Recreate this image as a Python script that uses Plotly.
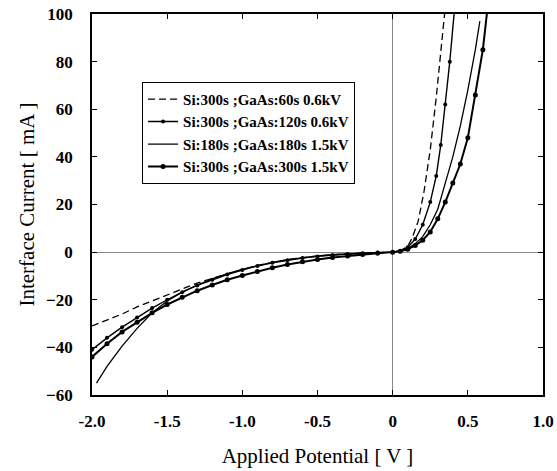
import plotly.graph_objects as go

# ---- data ----
names = [
    "Si:300s ;GaAs:60s 0.6kV",
    "Si:300s ;GaAs:120s 0.6kV",
    "Si:180s ;GaAs:180s 1.5kV",
    "Si:300s ;GaAs:300s 1.5kV",
]

v_a = [-2.0, -1.9, -1.8, -1.7, -1.6, -1.5, -1.4, -1.3, -1.2, -1.1, -1.0, -0.9, -0.8, -0.7, -0.6,
       -0.5, -0.4, -0.3, -0.2, -0.1, 0.0, 0.05, 0.1, 0.13, 0.17, 0.21, 0.25, 0.29, 0.32, 0.35]
i_a = [-31, -28.5, -26, -23, -20.5, -18, -15.5, -13, -11, -9, -7.3, -5.6, -4.3, -3.2, -2.3,
       -1.6, -1.1, -0.7, -0.4, -0.2, 0, 0.6, 2.5, 6, 13, 26, 43, 65, 83, 103]

v_b = [-2.0, -1.9, -1.8, -1.7, -1.6, -1.5, -1.4, -1.3, -1.2, -1.1, -1.0, -0.9, -0.8, -0.7, -0.6,
       -0.5, -0.4, -0.3, -0.2, -0.1, 0.0, 0.05, 0.1, 0.15, 0.2, 0.25, 0.29, 0.32, 0.35, 0.38, 0.41]
i_b = [-41, -36, -31.5, -27.5, -23.5, -20, -16.8, -14, -11.6, -9.4, -7.5, -5.8, -4.5, -3.4, -2.5,
       -1.8, -1.2, -0.8, -0.5, -0.2, 0, 0.5, 2, 5.5, 11.5, 21, 32, 45, 62, 80, 101]

v_c = [-1.97, -1.9, -1.8, -1.7, -1.6, -1.5, -1.4, -1.3, -1.2, -1.1, -1.0, -0.9, -0.8, -0.7, -0.6,
       -0.5, -0.4, -0.3, -0.2, -0.1, 0.0, 0.05, 0.1, 0.15, 0.2, 0.25, 0.3, 0.35, 0.4, 0.45, 0.5,
       0.55, 0.58]
i_c = [-55, -48, -39.5, -32, -25.5, -20.5, -16.8, -13.8, -11.2, -9, -7.2, -5.6, -4.3, -3.2, -2.3,
       -1.6, -1.1, -0.7, -0.4, -0.2, 0, 0.5, 1.5, 3.5, 6.5, 11.5, 18, 29, 40, 53, 68, 85, 97]

v_d = [-2.0, -1.9, -1.8, -1.7, -1.6, -1.5, -1.4, -1.3, -1.2, -1.1, -1.0, -0.9, -0.8, -0.7, -0.6,
       -0.5, -0.4, -0.3, -0.2, -0.1, 0.0, 0.05, 0.1, 0.15, 0.2, 0.25, 0.3, 0.35, 0.4, 0.45, 0.5,
       0.55, 0.6, 0.63]
i_d = [-44, -38.5, -33.5, -29.5, -25.5, -22, -19, -16.2, -13.8, -11.6, -9.8, -8.1, -6.6, -5.2, -4,
       -3.1, -2.3, -1.6, -1, -0.5, 0, 0.4, 1.2, 2.8, 5, 8.5, 14, 21, 29, 37, 48, 66, 85, 102]

x_tickvals = [-2.0, -1.5, -1.0, -0.5, 0.0, 0.5, 1.0]
x_ticktext = ["-2.0", "-1.5", "-1.0", "-0.5", "0", "0.5", "1.0"]
y_tickvals = [-60, -40, -20, 0, 20, 40, 60, 80, 100]

SERIF = "Liberation Serif, Times New Roman, serif"

fig = go.Figure()
fig.add_trace(go.Scatter(x=v_a, y=i_a, name=names[0], mode="lines",
                         line=dict(color="black", width=1.3, dash="7px,4px")))
fig.add_trace(go.Scatter(x=v_b, y=i_b, name=names[1], mode="lines+markers",
                         line=dict(color="black", width=1.4),
                         marker=dict(color="black", size=4)))
fig.add_trace(go.Scatter(x=v_c, y=i_c, name=names[2], mode="lines",
                         line=dict(color="black", width=1.3)))
fig.add_trace(go.Scatter(x=v_d, y=i_d, name=names[3], mode="lines+markers",
                         line=dict(color="black", width=2),
                         marker=dict(color="black", size=5)))

axis_common = dict(
    showgrid=False,
    showline=True, linecolor="black", linewidth=1.8, mirror="ticks",
    ticks="inside", ticklen=5, tickwidth=1, tickcolor="black",
    zeroline=True, zerolinecolor="#888888", zerolinewidth=1,
    tickfont=dict(family=SERIF, size=17, color="black", weight="bold"),
    automargin=False,
)

fig.update_layout(
    width=557, height=471,
    margin=dict(l=92, r=14, t=14, b=76),
    paper_bgcolor="white", plot_bgcolor="white",
    showlegend=True,
    legend=dict(
        x=0.111, y=0.822, xanchor="left", yanchor="top",
        bordercolor="black", borderwidth=1, bgcolor="white",
        font=dict(family=SERIF, size=15, color="black", weight="bold"),
        itemwidth=30, tracegroupgap=0,
    ),
    xaxis=dict(axis_common, range=[-2.0, 1.0], tickvals=x_tickvals, ticktext=x_ticktext,
               ticklabelstandoff=10,
               title=dict(text="Applied Potential [ V ]", standoff=18,
                          font=dict(family=SERIF, size=21, color="black"))),
    yaxis=dict(axis_common, range=[-60, 100], tickvals=y_tickvals,
               ticklabelstandoff=14,
               title=dict(text="Interface Current [ mA ]", standoff=6,
                          font=dict(family=SERIF, size=21, color="black"))),
)

# remove the default page margin so the figure fills the window exactly
fig.write_html("out.html",
               config={"displayModeBar": False},
               post_script="document.body.style.margin='0';document.body.style.overflow='hidden';")
